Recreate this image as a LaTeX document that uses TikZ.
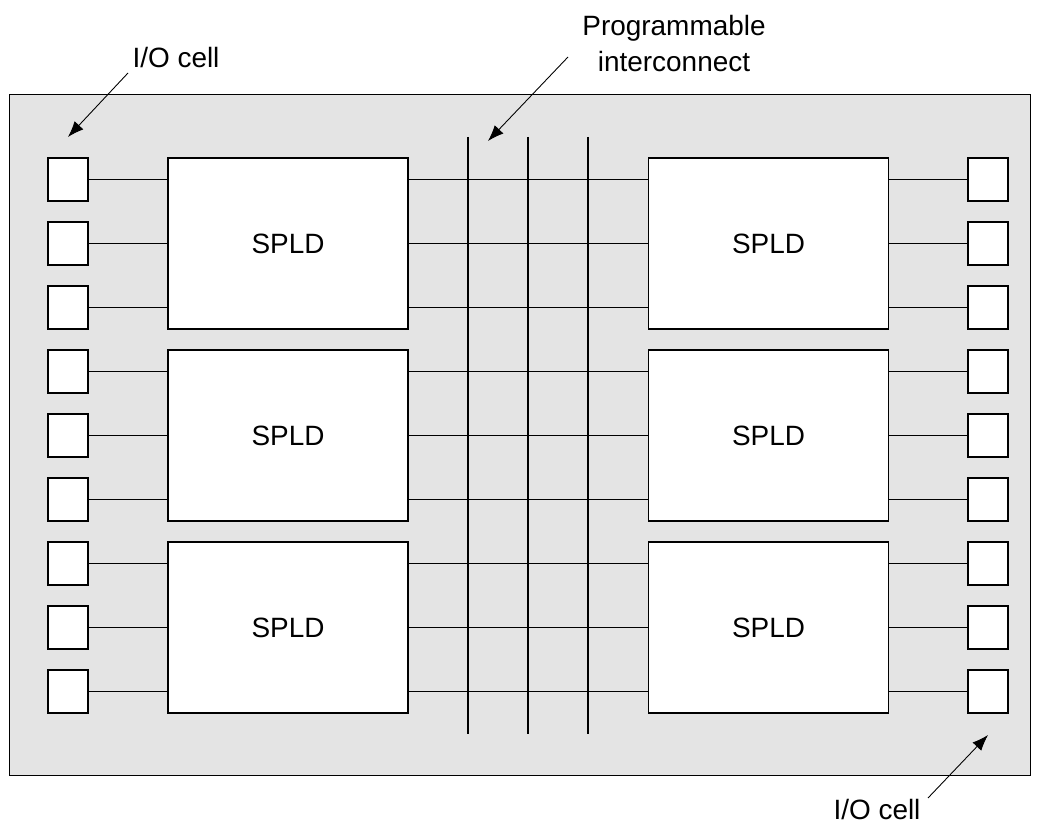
\documentclass[tikz,border=0pt]{standalone}
\usepackage{fontspec}
\setmainfont{Liberation Sans}
\usetikzlibrary{arrows.meta}
\definecolor{chipgray}{HTML}{E4E4E4}
\tikzset{
  lbl/.style={font=\fontsize{15.9}{21}\selectfont, inner sep=0, outer sep=0},
  iocell/.style={draw, fill=white, line width=0.7pt, minimum width=0.8cm, minimum height=0.86cm, inner sep=0, outer sep=0},
  spldbox/.style={draw, fill=white, line width=0.7pt, minimum width=4.8cm, minimum height=3.42cm, inner sep=0, outer sep=0, font=\fontsize{15.9}{19}\selectfont},
  wire/.style={line width=0.6pt},
  pointer/.style={line width=0.5pt, -{Latex[length=0.32cm,width=0.24cm]}}
}
\begin{document}
\begin{tikzpicture}[x=0.02cm,y=-0.02cm]
\useasboundingbox (0,0) rectangle (1042,824);
% chip background
\node[draw, fill=chipgray, line width=0.6pt, minimum width=20.44cm, minimum height=13.64cm, inner sep=0, outer sep=0] (chip) at (520,435) {};
% I/O cells
\foreach \k in {0,...,8} {
  \node[iocell] (iol\k) at (68,{179.5+64*\k}) {};
  \node[iocell] (ior\k) at (988,{179.5+64*\k}) {};
}
% SPLD blocks
\node[spldbox] (sl0) at (288,243.5) {SPLD};
\node[spldbox] (sl1) at (288,435.5) {SPLD};
\node[spldbox] (sl2) at (288,627.5) {SPLD};
\node[spldbox] (sr0) at (768.5,243.5) {SPLD};
\node[spldbox] (sr1) at (768.5,435.5) {SPLD};
\node[spldbox] (sr2) at (768.5,627.5) {SPLD};
% vertical interconnect lines
\foreach \i/\x in {1/468,2/528,3/588} {
  \coordinate (vt\i) at (\x,137);
  \coordinate (vb\i) at (\x,734);
  \draw[wire] (vt\i) -- (vb\i);
}
% wires
\foreach \k/\b in {0/0,1/0,2/0,3/1,4/1,5/1,6/2,7/2,8/2} {
  \draw[wire] (iol\k.east) -- (sl\b.west |- iol\k);
  \draw[wire] (sl\b.east |- iol\k) -- (sr\b.west |- iol\k);
  \draw[wire] (sr\b.east |- ior\k) -- (ior\k.west);
}
% labels
\node[lbl, anchor=base] (lio1) at (176,68) {I/O cell};
\node[lbl, anchor=base, align=center] (lpi) at (674,72) {Programmable\\interconnect};
\node[lbl, anchor=base] (lio2) at (877,819) {I/O cell};
% pointers
\coordinate (t1) at (128,73);
\coordinate (h1) at (68,137);
\coordinate (t2) at (568,57);
\coordinate (h2) at (488,141);
\coordinate (t3) at (928,798);
\coordinate (h3) at (988,735);
\draw[pointer] (t1) -- (h1);
\draw[pointer] (t2) -- (h2);
\draw[pointer] (t3) -- (h3);
\end{tikzpicture}
\end{document}
